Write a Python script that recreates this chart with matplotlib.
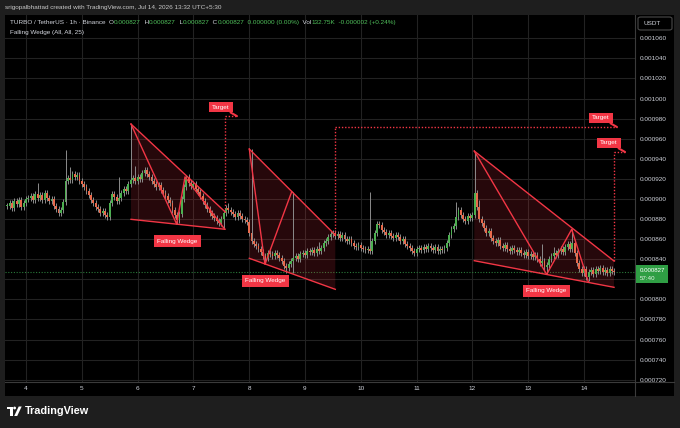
import matplotlib.pyplot as plt
from matplotlib.patches import Rectangle, Polygon, Ellipse, FancyBboxPatch
from matplotlib.lines import Line2D

plt.rcParams['font.family'] = ['Liberation Sans', 'DejaVu Sans']

W, H = 680, 428

# hourly closes in 1e-6 USDT, first candle is day 3, 16:00
closes = [
    893, 896, 891, 898, 895, 899, 892, 896, 900, 901,
    903, 899, 905, 901, 904, 899, 906, 901, 898, 900,
    893, 890, 886, 889, 897, 918, 921, 919, 925, 922,
    924, 918, 915, 912, 908, 904, 899, 896, 892, 890,
    886, 888, 884, 882, 896, 905, 902, 898, 901, 906,
    910, 908, 915, 919, 921, 918, 922, 920, 926, 929,
    925, 922, 918, 915, 912, 914, 909, 906, 903, 899,
    896, 889, 884, 879, 885, 900, 912, 922, 916, 913,
    915, 910, 907, 903, 898, 894, 890, 886, 883, 881,
    878, 876, 880, 886, 891, 889, 887, 885, 882, 886,
    883, 880, 879, 877, 866, 858, 855, 853, 850, 847,
    843, 841, 846, 845, 843, 846, 844, 841, 838, 833,
    831, 835, 838, 841, 843, 840, 845, 846, 844, 848,
    847, 849, 846, 850, 848, 851, 856, 858, 862, 865,
    866, 863, 865, 861, 864, 860, 858, 860, 856, 853,
    852, 854, 851, 850, 849, 850, 848, 858, 866, 875,
    874, 869, 867, 864, 866, 863, 861, 864, 862, 858,
    860, 855, 853, 851, 848, 846, 850, 851, 849, 852,
    850, 853, 851, 849, 852, 848, 850, 849, 851, 856,
    864, 870, 873, 882, 889, 884, 880, 878, 883, 881,
    884, 906, 892, 880, 876, 871, 866, 868, 861, 858,
    856, 859, 853, 851, 854, 850, 848, 851, 849, 847,
    849, 846, 844, 847, 843, 845, 842, 844, 840, 836,
    838, 832, 834, 840, 843, 846, 844, 848, 850, 847,
    852, 855, 850, 856, 846, 836, 830, 826, 830, 822,
    827, 829, 825, 830, 828, 831, 827, 829, 826, 830, 828, 827,
]
first_hour = 3 * 24 + 16

# long wicks (candle index -> price), the rest get a short wick
highs = {13: 916, 25: 949, 27: 932, 48: 922, 53: 975, 55: 933, 77: 924,
         95: 896, 105: 950, 123: 907, 134: 857, 156: 907, 193: 897,
         201: 946, 203: 899, 230: 855, 235: 852, 243: 870}
lows = {73: 875, 93: 870, 111: 835, 120: 826, 123: 826, 232: 825,
        249: 819, 250: 818}
wick = 3

last_price = 827
days = list(range(4, 15))
price_ticks = list(range(720, 1061, 20))

# falling wedge drawings: (day, price e-6)
wedge_zigzag = [
    [(5.882, 974.6), (6.700, 875.0), (6.850, 922.0), (7.560, 870.0)],
    [(8.002, 949.7), (8.283, 834.9), (8.762, 907.2)],
    [(12.034, 947.7), (13.331, 824.9), (13.780, 869.8), (14.077, 817.6)],
]
wedge_upper = [[(5.882, 974.6), (7.566, 887.3)],
               [(8.002, 949.7), (9.543, 864.1)],
               [(12.034, 947.7), (14.538, 838.2)]]
wedge_lower = [[(5.882, 879.7), (7.566, 869.8)],
               [(8.002, 840.9), (9.543, 810.0)],
               [(12.034, 838.5), (14.538, 812.0)]]
wedge_label_at = [(6.710, 857.9), (8.289, 818.5), (13.322, 808.8)]
targets = [982.5, 971.7, 946.8]
target_label_day = [7.781, 14.59, 14.735]

UP, DOWN, RED = '#4caf50', '#e86a4c', '#f23645'
TXT, GREEN_TXT = '#d1d4dc', '#4fbf5a'
FS = 4.6


def fx(px):
    return px / W


def fy(py):
    return 1 - py / H


fig = plt.figure(figsize=(6.8, 4.28), dpi=100, facecolor='#1e1e1e')
fig.patches.append(Rectangle((fx(5), fy(396)), (674 - 5) / W, (396 - 15) / H,
                             transform=fig.transFigure, fc='black', zorder=-1))

ax = fig.add_axes([fx(5), fy(382), (635 - 5) / W, (382 - 15) / H])
ax.set_facecolor('black')
ax.set_xlim(3.624, 14.914)
ax.set_ylim(717.7, 1083.2)
ax.grid(True, color='#222222', lw=0.8)
ax.set_axisbelow(True)
for s in ['top', 'left', 'right', 'bottom']:
    ax.spines[s].set_visible(False)

ax.set_xticks(days, [str(d) for d in days])
ax.tick_params(axis='x', length=0, pad=3, labelsize=FS, labelcolor=TXT)
ax.yaxis.tick_right()
# the 0.000820 label sits under the last-price box
ax.set_yticks(price_ticks, ['' if p == 820 else f"{p / 1e6:.6f}" for p in price_ticks])
ax.tick_params(axis='y', length=0, pad=3.6, labelsize=FS, labelcolor=TXT)

# candles
t = [(first_hour + i) / 24 for i in range(len(closes))]
opens = [closes[0]] + closes[:-1]
hi = [highs.get(i, max(o, c) + wick) for i, (o, c) in enumerate(zip(opens, closes))]
lo = [lows.get(i, min(o, c) - wick) for i, (o, c) in enumerate(zip(opens, closes))]
ax.vlines(t, lo, hi, color='#8c8c8c', lw=0.7, zorder=2)
ax.bar(t, [max(abs(c - o), 1.0) for o, c in zip(opens, closes)],
       bottom=[min(o, c) for o, c in zip(opens, closes)], width=0.8 / 24,
       color=[UP if c >= o else DOWN for o, c in zip(opens, closes)],
       linewidth=0, zorder=3)

ax.axhline(last_price, color='#2a7a3a', ls=(0, (1, 1.5)), lw=0.8, zorder=1)

# wedges
for zz, up, low, lab, tgt, tday in zip(wedge_zigzag, wedge_upper, wedge_lower,
                                      wedge_label_at, targets, target_label_day):
    ax.add_patch(Polygon([up[0], up[1], low[1], low[0]], closed=True,
                         fc=RED, alpha=0.16, lw=0, zorder=1))
    for seg in (up, low, zz):
        ax.plot([p[0] for p in seg], [p[1] for p in seg], color=RED, lw=1.0, zorder=4)
    ax.text(lab[0], lab[1], 'Falling Wedge', color='white', fontsize=FS,
            ha='center', va='center', zorder=6,
            bbox=dict(boxstyle='square,pad=0.55', fc=RED, ec='none'))
    end_t = up[1][0]
    ax.plot([end_t, end_t], [up[1][1], tgt], color=RED, lw=1.0,
            ls=(0, (1, 1.3)), zorder=4)
    ax.plot([end_t, tday], [tgt, tgt], color=RED, lw=1.0, ls=(0, (1, 1.3)), zorder=4)
    ax.annotate('Target', xy=(tday, tgt), xytext=(-11.5, 6.5),
                textcoords='offset points', color='white', fontsize=FS,
                ha='center', va='center', zorder=6,
                bbox=dict(boxstyle='square,pad=0.45', fc=RED, ec='none'),
                arrowprops=dict(arrowstyle='-', color=RED, lw=1.5,
                                shrinkA=0, shrinkB=0))

# frame lines
fig.add_artist(Line2D([fx(635), fx(635)], [fy(15), fy(396)], color='#3b3b3b', lw=0.8))
fig.add_artist(Line2D([fx(5), fx(674)], [fy(382), fy(382)], color='#3b3b3b', lw=0.8))

# header and legend
fig.text(fx(5), fy(9), 'srigopalbhattad created with TradingView.com, Jul 14, 2026 13:32 UTC+5:30',
         color='#c8c8c8', fontsize=FS, va='baseline')
parts = [('TURBO / TetherUS · 1h · Binance  O', TXT), ('0.000827', GREEN_TXT),
         ('  H', TXT), ('0.000827', GREEN_TXT), ('  L', TXT), ('0.000827', GREEN_TXT),
         ('  C', TXT), ('0.000827', GREEN_TXT), ('  0.000000 (0.00%)', GREEN_TXT),
         ('  Vol', TXT), ('132.75K', GREEN_TXT), ('  -0.000002 (+0.24%)', GREEN_TXT)]
renderer = fig.canvas.get_renderer()
x = 10
for s, col in parts:
    tx = fig.text(fx(x), fy(24), s, color=col, fontsize=FS, va='baseline')
    x += tx.get_window_extent(renderer).width
fig.text(fx(10), fy(34), 'Falling Wedge (All, All, 25)', color=TXT, fontsize=FS, va='baseline')

# price axis boxes
fig.patches.append(FancyBboxPatch((fx(638), fy(30)), 34 / W, 13 / H,
                                  boxstyle='round,pad=0,rounding_size=0.004',
                                  transform=fig.transFigure, fc='black', ec='#4a4a4a', lw=0.8))
fig.text(fx(643), fy(23.5), 'USDT', color=TXT, fontsize=FS, va='center')
fig.patches.append(Rectangle((fx(636), fy(283)), 32 / W, 18 / H,
                             transform=fig.transFigure, fc='#2f9e44', zorder=5))
fig.text(fx(640), fy(272), f"{last_price / 1e6:.6f}", color='white', fontsize=4.4,
         va='baseline', zorder=6)
fig.text(fx(640), fy(280.5), '57:40', color='#e8f5e9', fontsize=4.4, va='baseline', zorder=6)

# TradingView logo
fig.patches.append(Polygon([(fx(6.5), fy(406.5)), (fx(12.5), fy(406.5)), (fx(12.5), fy(416)),
                            (fx(9.8), fy(416)), (fx(9.8), fy(409.2)), (fx(6.5), fy(409.2))],
                           closed=True, transform=fig.transFigure, fc='white', ec='none'))
fig.patches.append(Ellipse((fx(14.6), fy(408)), 2.8 / W, 2.8 / H,
                           transform=fig.transFigure, fc='white', ec='none'))
fig.patches.append(Polygon([(fx(14.2), fy(416)), (fx(17.2), fy(416)), (fx(21.7), fy(406.5)),
                            (fx(18.7), fy(406.5))],
                           closed=True, transform=fig.transFigure, fc='white', ec='none'))
fig.text(fx(25), fy(411.5), 'TradingView', color='white', fontsize=7.8,
         fontweight='bold', va='center')

fig.savefig('out.png', dpi=100, facecolor=fig.get_facecolor())
